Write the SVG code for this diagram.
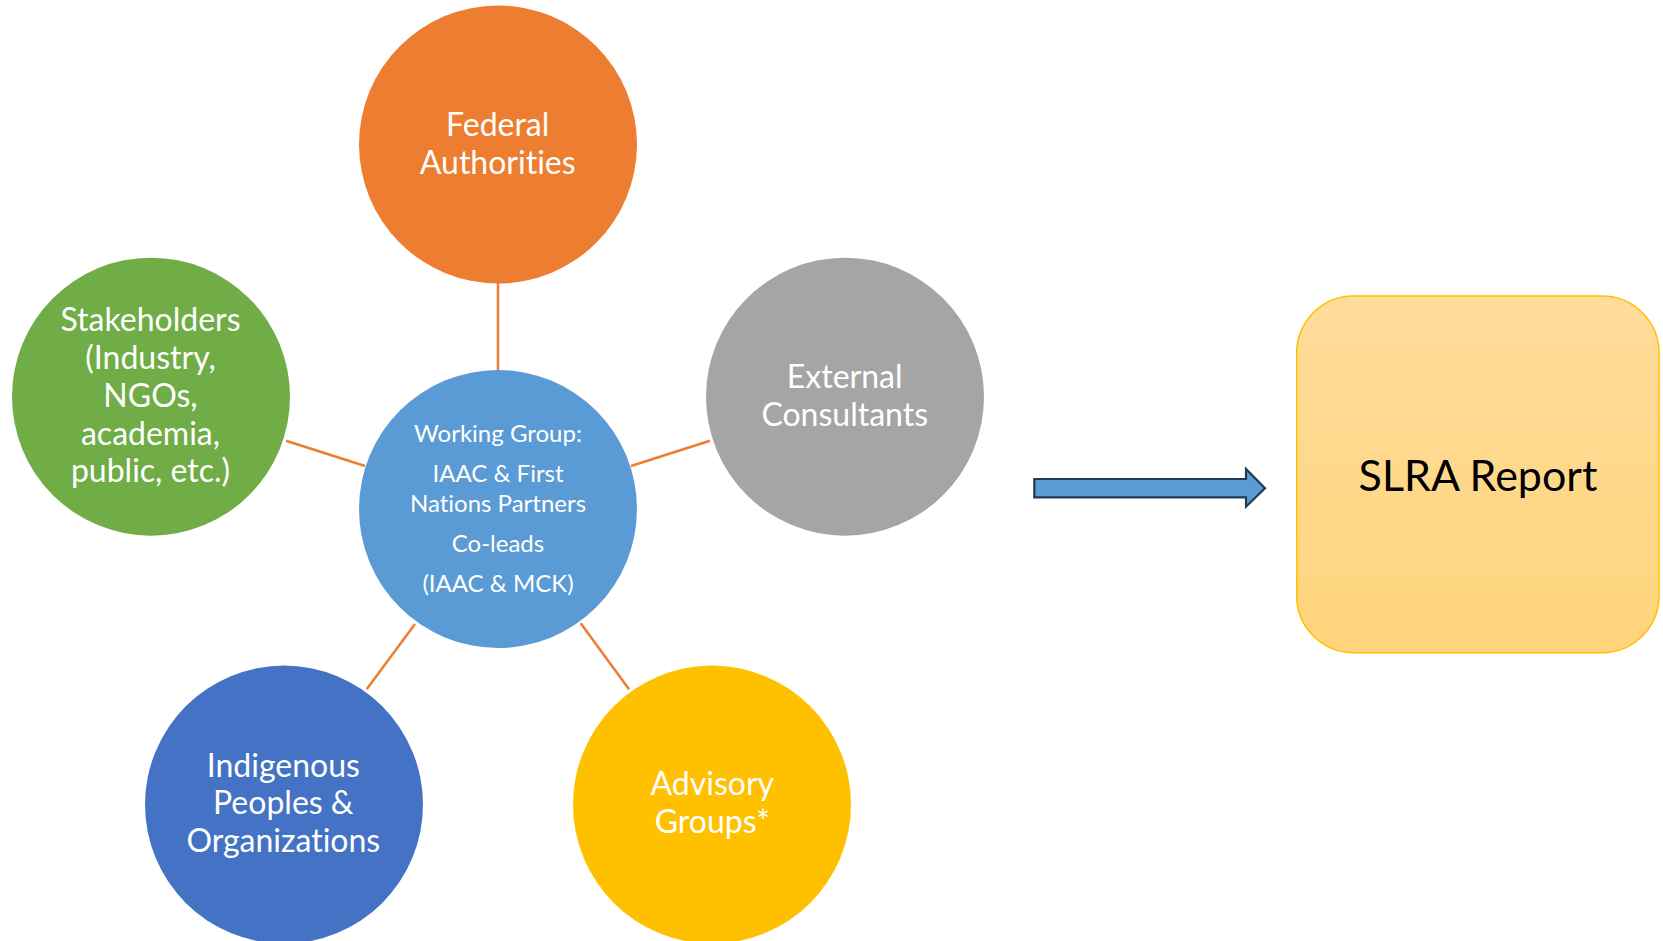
<svg xmlns="http://www.w3.org/2000/svg" width="1663" height="941" viewBox="0 0 1663 941">
<defs>
<linearGradient id="boxGrad" x1="0" y1="0" x2="0" y2="1">
<stop offset="0" stop-color="#FEDC9A"/>
<stop offset="1" stop-color="#FFD47C"/>
</linearGradient>
<style>
text{font-variant-ligatures:none}
.lbl{font-family:Lato,"Open Sans",sans-serif;fill:#FFFFFF;text-anchor:middle;font-size:32px}
.wg{font-size:24px}
.conn{stroke:#ED7D31;stroke-width:2.5;fill:none}
</style>
</defs>
<rect width="1663" height="941" fill="#FFFFFF"/>
<g id="connectors">
<line class="conn" x1="498" y1="283" x2="498" y2="370"/>
<line class="conn" x1="286" y1="440.7" x2="365" y2="466"/>
<line class="conn" x1="631" y1="466" x2="710" y2="440.7"/>
<line class="conn" x1="366.7" y1="689.3" x2="415" y2="624"/>
<line class="conn" x1="580.7" y1="623.3" x2="629" y2="689.3"/>
<path d="M1034.3,479 L1246,479 L1246,469 L1265,488.3 L1246,506.7 L1246,497.3 L1034.3,497.3 Z" fill="#5B9BD5" stroke="#203A58" stroke-width="2.2"/>
</g>
<g id="federal">
<circle cx="498" cy="144.5" r="139" fill="#ED7D31"/>
<text class="lbl" x="497.7" y="136">Federal</text>
<text class="lbl" x="497.7" y="174">Authorities</text>
</g>
<g id="working-group">
<circle cx="498" cy="509" r="139" fill="#5B9BD5"/>
<text class="lbl wg" x="498" y="441.7">Working Group:</text>
<text class="lbl wg" x="498" y="481.7">IAAC &amp; First</text>
<text class="lbl wg" x="498" y="511.7">Nations Partners</text>
<text class="lbl wg" x="498" y="551.7">Co-leads</text>
<text class="lbl wg" x="498" y="591.7">(IAAC &amp; MCK)</text>
</g>
<g id="stakeholders">
<circle cx="151" cy="396.7" r="139" fill="#70AD47"/>
<text class="lbl" x="150.5" y="331">Stakeholders</text>
<text class="lbl" x="150.5" y="369.3">(Industry,</text>
<text class="lbl" x="150.5" y="406.7">NGOs,</text>
<text class="lbl" x="150.5" y="445">academia,</text>
<text class="lbl" x="150.5" y="481.7">public, etc.)</text>
</g>
<g id="external">
<circle cx="845" cy="396.7" r="139" fill="#A5A5A5"/>
<text class="lbl" x="844.7" y="387.7">External</text>
<text class="lbl" x="844.7" y="425.7">Consultants</text>
</g>
<g id="indigenous">
<circle cx="284" cy="804.6" r="139" fill="#4472C4"/>
<text class="lbl" x="283.3" y="776.7">Indigenous</text>
<text class="lbl" x="283.3" y="814">Peoples &amp;</text>
<text class="lbl" x="283.3" y="851.7">Organizations</text>
</g>
<g id="advisory">
<circle cx="712" cy="804.6" r="139" fill="#FFC000"/>
<text class="lbl" x="712.3" y="795">Advisory</text>
<text class="lbl" x="712.3" y="832.7">Groups*</text>
</g>
<g id="slra-report">
<rect x="1296.7" y="296" width="362.3" height="356.7" rx="57" ry="57" fill="url(#boxGrad)" stroke="#FFC000" stroke-width="1.5"/>
<text x="1478" y="490.7" font-family="Lato,'Open Sans',sans-serif" font-size="43" fill="#000000" text-anchor="middle">SLRA Report</text>
</g>
</svg>
